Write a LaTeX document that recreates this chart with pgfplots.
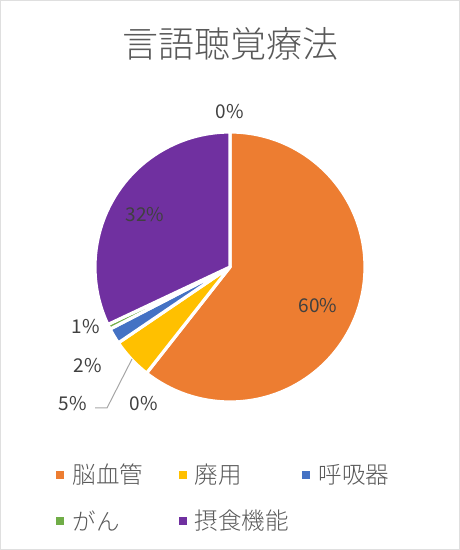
\documentclass[border=0pt]{standalone}
\usepackage{pgfplots}
\pgfplotsset{compat=1.18}
\usepackage{fontspec}
\setmainfont{Noto Sans CJK JP}
\newfontfamily\lightcjk{Noto Sans CJK JP Light}

\definecolor{cBrain}{HTML}{ED7D31}
\definecolor{cDisuse}{HTML}{FFC000}
\definecolor{cResp}{HTML}{4472C4}
\definecolor{cCancer}{HTML}{70AD47}
\definecolor{cSwallow}{HTML}{7030A0}
\definecolor{labelgray}{HTML}{404040}
\definecolor{titlegray}{HTML}{595959}
\definecolor{leadergray}{HTML}{A6A6A6}

% shares in percent, clockwise from 12 o'clock
\def\vBrain{60.6}
\def\vDisuse{4.9}
\def\vResp{1.9}
\def\vCancer{0.6}
\def\vSwallow{32.0}

\pgfmathsetmacro\aA{90}
\pgfmathsetmacro\aB{\aA-3.6*\vBrain}
\pgfmathsetmacro\aC{\aB-3.6*\vDisuse}
\pgfmathsetmacro\aD{\aC-3.6*\vResp}
\pgfmathsetmacro\aE{\aD-3.6*\vCancer}
\pgfmathsetmacro\aF{\aE-3.6*\vSwallow}

\newcommand\pieslice[3]{%
  \filldraw[fill=#1, draw=white, line width=3.2bp, line join=round]
    (axis cs:230,283) -- ++(#2:135bp) arc[start angle=#2, end angle=#3, radius=135bp] -- cycle;}

\begin{document}
\begin{tikzpicture}
\begin{axis}[
    x=1bp, y=1bp,
    xmin=0, xmax=460, ymin=0, ymax=550,
    hide axis,
    clip=false,
]
% frame
\draw[gray!25, line width=1bp] (axis cs:0.5,0.5) rectangle (axis cs:459.5,549.5);

% title
\node[text=titlegray, font=\lightcjk\fontsize{36bp}{42bp}\selectfont] at (axis cs:230,506) {言語聴覚療法};

% slices
\pieslice{cBrain}{\aA}{\aB}
\pieslice{cDisuse}{\aB}{\aC}
\pieslice{cResp}{\aC}{\aD}
\pieslice{cCancer}{\aD}{\aE}
\pieslice{cSwallow}{\aE}{\aF}

% data labels
\begin{scope}[every node/.style={text=labelgray, font=\fontsize{19bp}{22bp}\selectfont}]
\node at (axis cs:230,438) {0\%};
\node at (axis cs:318,244) {60\%};
\node at (axis cs:145,335) {32\%};
\node at (axis cs:86,223) {1\%};
\node at (axis cs:88,184) {2\%};
\node at (axis cs:73,146) {5\%};
\node at (axis cs:144,146) {0\%};
\end{scope}
\draw[leadergray, line width=1bp] (axis cs:95,142) -- (axis cs:107,142) -- (axis cs:132,191);

% legend
\begin{scope}[every node/.style={text=titlegray, anchor=west, font=\lightcjk\fontsize{23.5bp}{27bp}\selectfont}]
\fill[cBrain]   (axis cs:56,71) rectangle (axis cs:64,79);
\node at (axis cs:69,75) {脳血管};
\fill[cDisuse]  (axis cs:179,71) rectangle (axis cs:187,79);
\node at (axis cs:191,75) {廃用};
\fill[cResp]    (axis cs:302,71) rectangle (axis cs:310,79);
\node at (axis cs:315,75) {呼吸器};
\fill[cCancer]  (axis cs:56,25) rectangle (axis cs:64,33);
\node at (axis cs:69,29) {がん};
\fill[cSwallow] (axis cs:179,25) rectangle (axis cs:187,33);
\node at (axis cs:191,29) {摂食機能};
\end{scope}
\end{axis}
\end{tikzpicture}
\end{document}
